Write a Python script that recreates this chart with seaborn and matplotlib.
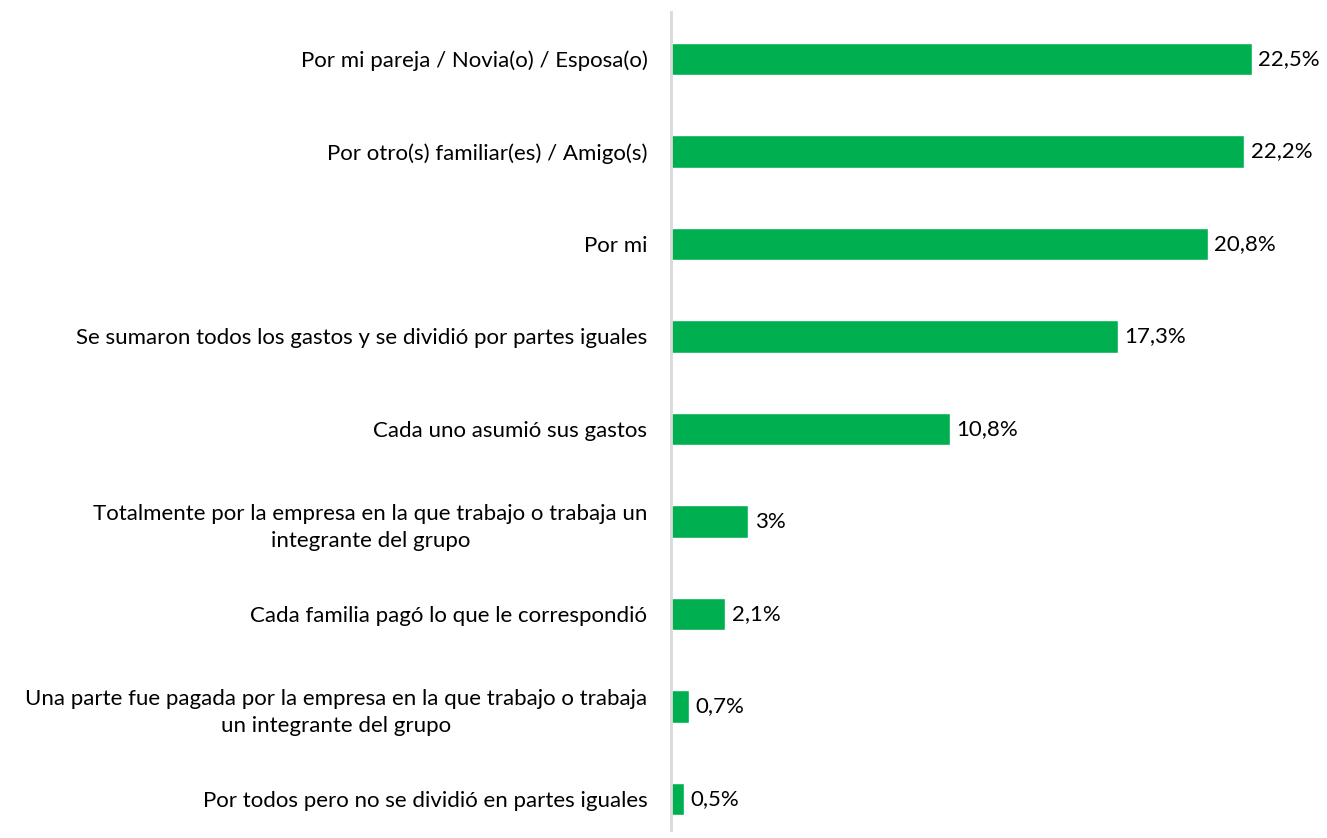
import matplotlib.pyplot as plt
import pandas as pd
import seaborn as sns

categories = [
    "Por mi pareja / Novia(o) / Esposa(o)",
    "Por otro(s) familiar(es) / Amigo(s)",
    "Por mi",
    "Se sumaron todos los gastos y se dividió por partes iguales",
    "Cada uno asumió sus gastos",
    "Totalmente por la empresa en la que trabajo o trabaja un\nintegrante del grupo",
    "Cada familia pagó lo que le correspondió",
    "Una parte fue pagada por la empresa en la que trabajo o trabaja\nun integrante del grupo",
    "Por todos pero no se dividió en partes iguales",
]
values = [22.5, 22.2, 20.8, 17.3, 10.8, 3.0, 2.1, 0.7, 0.5]
value_labels = ["22,5%", "22,2%", "20,8%", "17,3%", "10,8%", "3%", "2,1%", "0,7%", "0,5%"]

df = pd.DataFrame({"cat": categories, "val": values})

sns.set_style("white")
plt.rcParams["font.family"] = ["Lato", "DejaVu Sans"]

fig = plt.figure(figsize=(13.27, 8.38), dpi=100)
# axis line runs from y=12px to y=830px in the reference
ax = fig.add_axes([671 / 1327, 8 / 838, 1 - 671 / 1327 - 0.008, 818 / 838])

sns.barplot(data=df, x="val", y="cat", orient="h", color="#00B050",
            width=0.35, saturation=1, ax=ax)

for i, (v, lab) in enumerate(zip(values, value_labels)):
    ax.text(v + 0.25, i, lab, va="center", ha="left", fontsize=16, color="#000000")

ax.set_xlim(0, 25)
ax.set_ylim(8.335, -0.508)
ax.set_xlabel("")
ax.set_ylabel("")
ax.set_xticks([])
ax.tick_params(axis="y", length=0, pad=17, labelsize=16, labelcolor="#000000")
for t in ax.get_yticklabels():
    t.set_multialignment("center")
    t.set_linespacing(1.45)

for s in ["top", "right", "bottom"]:
    ax.spines[s].set_visible(False)
ax.spines["left"].set_color("#D9D9D9")
ax.spines["left"].set_linewidth(2)

fig.savefig("out.png", dpi=100)
